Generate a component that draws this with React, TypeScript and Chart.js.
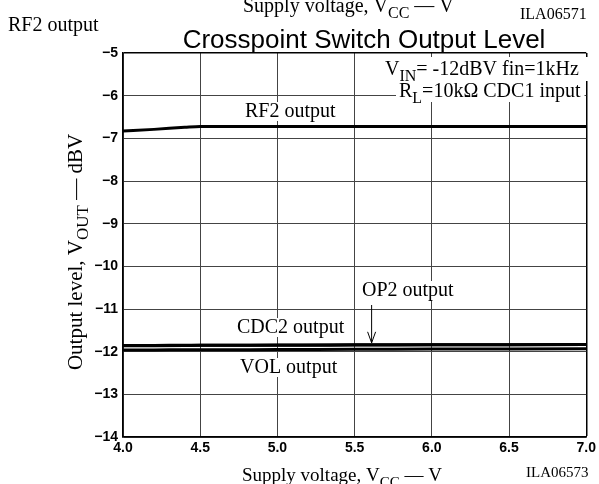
import React, { useEffect, useRef } from "react";
import { Chart, registerables } from "chart.js";
Chart.register(...registerables);

// Supply voltage (V)
const supplyVoltage = [4.0, 4.2, 4.4, 4.5, 5.0, 5.5, 6.0, 6.5, 7.0];
// Output levels (dBV)
const rf2Output = [-6.83, -6.79, -6.74, -6.72, -6.72, -6.72, -6.72, -6.72, -6.72];
const cdc2Output = [-11.86, -11.86, -11.855, -11.85, -11.85, -11.845, -11.84, -11.835, -11.83];
const op2Output = [-11.855, -11.855, -11.85, -11.85, -11.845, -11.84, -11.84, -11.835, -11.83];
const volOutput = [-11.96, -11.96, -11.955, -11.955, -11.95, -11.945, -11.94, -11.935, -11.93];

const xTickValues = [4.0, 4.5, 5.0, 5.5, 6.0, 6.5, 7.0];
const xTickLabels = ["4.0", "4.5", "5.0", "5.5", "6.0", "6.5", "7.0"];
const yTickValues = [-5, -6, -7, -8, -9, -10, -11, -12, -13, -14];
const yTickLabels = ["\u22125", "\u22126", "\u22127", "\u22128", "\u22129", "\u221210", "\u221211", "\u221212", "\u221213", "\u221214"];

const SERIF = '"Liberation Serif", "Times New Roman", serif';
const SANS = '"Liberation Sans", Arial, sans-serif';

type Seg = [string, boolean?];

function richWidth(ctx: CanvasRenderingContext2D, segs: Seg[], size: number) {
  let w = 0;
  for (const [t, sub] of segs) {
    ctx.font = `${sub ? Math.round(size * 0.8) : size}px ${SERIF}`;
    w += ctx.measureText(t).width;
  }
  return w;
}

function drawRich(ctx: CanvasRenderingContext2D, x: number, y: number, segs: Seg[], size: number) {
  ctx.textBaseline = "alphabetic";
  ctx.textAlign = "left";
  let cx = x;
  for (const [t, sub] of segs) {
    const s = sub ? Math.round(size * 0.8) : size;
    ctx.font = `${s}px ${SERIF}`;
    ctx.fillText(t, cx, y + (sub ? size * 0.3 : 0));
    cx += ctx.measureText(t).width;
  }
}

function whiteBox(ctx: CanvasRenderingContext2D, x: number, y: number, w: number, h: number) {
  ctx.fillStyle = "#fff";
  ctx.fillRect(x, y, w, h);
  ctx.fillStyle = "#000";
}

const textPlugin = {
  id: "texts",
  afterDatasetsDraw(chart: any) {
    const ctx: CanvasRenderingContext2D = chart.ctx;
    ctx.save();
    ctx.fillStyle = "#000";

    // top clipped texts
    drawRich(ctx, 8, 31, [["RF2 output"]], 20);
    drawRich(ctx, 243, 12, [["Supply voltage, V"], ["CC", true], [" \u2014 V"]], 20);
    ctx.font = `16px ${SERIF}`;
    ctx.fillText("ILA06571", 520, 19);

    // title
    ctx.font = `26px ${SANS}`;
    ctx.textAlign = "center";
    ctx.fillText("Crosspoint Switch Output Level", 364, 48);
    ctx.textAlign = "left";

    // condition box
    whiteBox(ctx, 382, 57, 208, 24);
    const rSegs: Seg[] = [["R"], ["L", true], ["=10k\u03A9 CDC1 input"]];
    const rw = richWidth(ctx, rSegs, 20);
    whiteBox(ctx, 396, 81, rw + 7, 21);
    drawRich(ctx, 385, 75, [["V"], ["IN", true], ["= -12dBV fin=1kHz"]], 20);
    drawRich(ctx, 399, 97, rSegs, 20);

    // series labels
    const lab = (t: string, x: number, y: number) => {
      const w = richWidth(ctx, [[t]], 20);
      whiteBox(ctx, x - 2, y - 15, w + 4, 19);
      drawRich(ctx, x, y, [[t]], 20);
    };
    lab("RF2 output", 245, 117);
    lab("OP2 output", 362, 296);
    lab("CDC2 output", 237, 333);
    lab("VOL output", 240, 373);

    // arrow for OP2
    const ax = chart.scales.x.getPixelForValue(5.61);
    const ayTop = 305;
    const ayTip = chart.scales.y.getPixelForValue(op2Output[5]) - 2;
    ctx.strokeStyle = "#000";
    ctx.lineWidth = 1;
    ctx.beginPath();
    ctx.moveTo(ax, ayTop);
    ctx.lineTo(ax, ayTip);
    ctx.moveTo(ax - 4, ayTip - 11);
    ctx.lineTo(ax, ayTip);
    ctx.lineTo(ax + 4, ayTip - 11);
    ctx.stroke();

    // bottom texts
    drawRich(ctx, 242, 481, [["Supply voltage, V"], ["CC", true], [" \u2014 V"]], 19);
    ctx.font = `15px ${SERIF}`;
    ctx.fillText("ILA06573", 526, 477);

    // y axis title
    ctx.save();
    ctx.translate(82, 252);
    ctx.rotate(-Math.PI / 2);
    const ysegs: Seg[] = [["Output level, V"], ["OUT", true], [" \u2014 dBV"]];
    const yw = richWidth(ctx, ysegs, 21);
    drawRich(ctx, -yw / 2, 0, ysegs, 21);
    ctx.restore();

    ctx.restore();
  },
};

export default function App() {
  const ref = useRef<HTMLCanvasElement | null>(null);
  useEffect(() => {
    if (!ref.current) return;
    const mk = (d: number[]) => supplyVoltage.map((x, i) => ({ x, y: d[i] }));
    const ds = (label: string, d: number[], w: number) => ({
      label,
      data: mk(d),
      borderColor: "#000",
      borderWidth: w,
      pointRadius: 0,
      fill: false,
      cubicInterpolationMode: "monotone" as const,
    });
    const chart = new Chart(ref.current, {
      type: "line",
      data: {
        datasets: [
          ds("RF2 output", rf2Output, 3),
          ds("CDC2 output", cdc2Output, 3),
          ds("OP2 output", op2Output, 3),
          ds("VOL output", volOutput, 3),
        ],
      },
      options: {
        responsive: false,
        animation: false,
        devicePixelRatio: 1,
        layout: { padding: { left: 0, top: 53, right: 11, bottom: 0 } },
        plugins: { legend: { display: false }, tooltip: { enabled: false }, title: { display: false } },
        scales: {
          x: {
            type: "linear",
            min: 4,
            max: 7,
            afterFit: (s: any) => { s.height = 47; },
            afterBuildTicks: (s: any) => { s.ticks = xTickValues.map((v) => ({ value: v })); },
            ticks: {
              padding: 3,
              color: "#000",
              font: { family: SANS, size: 14, weight: "bold" },
              callback: (v: any) => xTickLabels[xTickValues.indexOf(Number(v))] ?? "",
              maxRotation: 0,
            },
            grid: {
              drawTicks: false,
              color: (c: any) => (c.tick && c.tick.value === 7 ? "#000" : "#444"),
              lineWidth: (c: any) => (c.tick && c.tick.value === 7 ? 1.5 : 1),
            },
            border: { display: true, color: "#000", width: 1.5 },
          },
          y: {
            type: "linear",
            min: -14,
            max: -5,
            afterFit: (s: any) => { s.width = 123; },
            afterBuildTicks: (s: any) => { s.ticks = yTickValues.map((v) => ({ value: v })); },
            ticks: {
              padding: 5,
              color: "#000",
              font: { family: SANS, size: 14, weight: "bold" },
              callback: (v: any) => yTickLabels[yTickValues.indexOf(Number(v))] ?? "",
            },
            grid: {
              drawTicks: false,
              color: (c: any) => (c.tick && c.tick.value === -5 ? "#000" : "#444"),
              lineWidth: (c: any) => (c.tick && c.tick.value === -5 ? 1.5 : 1),
            },
            border: { display: true, color: "#000", width: 1.5 },
          },
        },
      },
      plugins: [textPlugin],
    });
    return () => chart.destroy();
  }, []);
  return (
    <div style={{ position: "absolute", left: 0, top: 0, width: 599, height: 484, background: "#fff" }}>
      <canvas ref={ref} width={599} height={484} style={{ width: 599, height: 484, display: "block" }} />
    </div>
  );
}
